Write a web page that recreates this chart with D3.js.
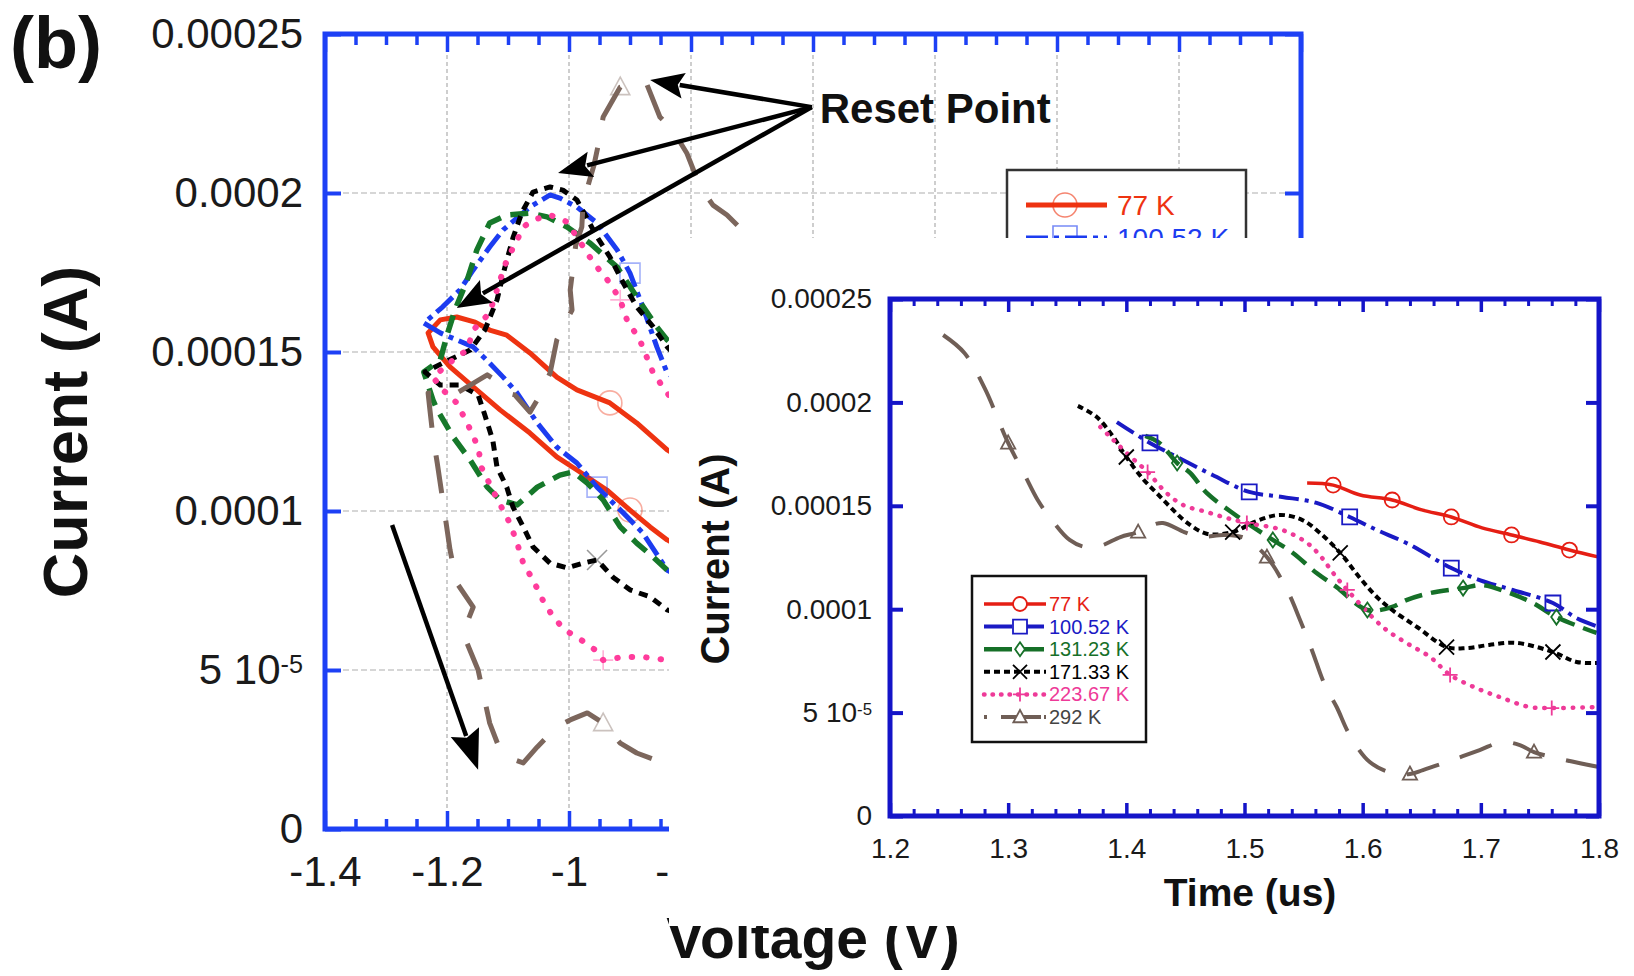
<!DOCTYPE html>
<html>
<head>
<meta charset="utf-8">
<script src="https://cdn.jsdelivr.net/npm/d3@7"></script>
<style>
  body { margin: 0; background: #fff; }
  svg { display: block; }
</style>
</head>
<body>
<svg id="fig" width="1634" height="976"></svg>
<script>
// ---------------- data ----------------
const TEMPS = ["77 K", "100.52 K", "131.23 K", "171.33 K", "223.67 K", "292 K"];

// I–V loops, [voltage (V), current (A)], in sweep order
const iv77 = [[-0.70,1.03e-4],[-0.839,1.192e-4],[-0.889,1.277e-4],[-0.933,1.340e-4],[-0.987,1.381e-4],[-1.020,1.421e-4],[-1.064,1.497e-4],[-1.102,1.553e-4],[-1.130,1.569e-4],[-1.154,1.594e-4],[-1.184,1.610e-4],[-1.211,1.601e-4],[-1.231,1.560e-4],[-1.223,1.516e-4],[-1.195,1.453e-4],[-1.157,1.390e-4],[-1.113,1.318e-4],[-1.064,1.245e-4],[-1.020,1.170e-4],[-0.987,1.129e-4],[-0.938,1.066e-4],[-0.900,1.003e-4],[-0.867,0.950e-4],[-0.839,0.909e-4],[-0.70,0.76e-4]];
const iv100 = [[-0.70,1.25e-4],[-0.839,1.434e-4],[-0.856,1.516e-4],[-0.879,1.642e-4],[-0.900,1.748e-4],[-0.921,1.821e-4],[-0.954,1.906e-4],[-0.987,1.956e-4],[-1.015,1.984e-4],[-1.031,1.994e-4],[-1.064,1.956e-4],[-1.108,1.884e-4],[-1.130,1.830e-4],[-1.157,1.758e-4],[-1.179,1.695e-4],[-1.207,1.642e-4],[-1.238,1.591e-4],[-1.211,1.560e-4],[-1.184,1.538e-4],[-1.157,1.516e-4],[-1.130,1.465e-4],[-1.108,1.421e-4],[-1.085,1.371e-4],[-1.052,1.277e-4],[-1.020,1.201e-4],[-0.987,1.151e-4],[-0.954,1.075e-4],[-0.911,0.994e-4],[-0.879,0.931e-4],[-0.839,0.814e-4],[-0.70,0.68e-4]];
const iv131 = [[-0.70,1.30e-4],[-0.839,1.538e-4],[-0.856,1.579e-4],[-0.889,1.673e-4],[-0.921,1.767e-4],[-0.966,1.843e-4],[-1.003,1.893e-4],[-1.036,1.925e-4],[-1.064,1.937e-4],[-1.102,1.931e-4],[-1.130,1.906e-4],[-1.151,1.821e-4],[-1.167,1.726e-4],[-1.187,1.632e-4],[-1.200,1.553e-4],[-1.211,1.475e-4],[-1.238,1.437e-4],[-1.223,1.349e-4],[-1.216,1.318e-4],[-1.190,1.233e-4],[-1.162,1.160e-4],[-1.134,1.075e-4],[-1.113,1.035e-4],[-1.085,1.019e-4],[-1.052,1.075e-4],[-1.015,1.113e-4],[-0.993,1.123e-4],[-0.970,1.088e-4],[-0.944,1.035e-4],[-0.916,0.950e-4],[-0.889,0.899e-4],[-0.862,0.855e-4],[-0.839,0.814e-4],[-0.70,0.70e-4]];
const iv171 = [[-0.70,1.25e-4],[-0.839,1.516e-4],[-0.862,1.579e-4],[-0.889,1.642e-4],[-0.911,1.717e-4],[-0.933,1.799e-4],[-0.954,1.862e-4],[-0.987,1.978e-4],[-1.010,2.009e-4],[-1.031,2.019e-4],[-1.059,2.003e-4],[-1.077,1.940e-4],[-1.092,1.858e-4],[-1.105,1.767e-4],[-1.118,1.664e-4],[-1.138,1.569e-4],[-1.162,1.506e-4],[-1.203,1.469e-4],[-1.236,1.437e-4],[-1.211,1.396e-4],[-1.179,1.396e-4],[-1.149,1.365e-4],[-1.138,1.302e-4],[-1.125,1.223e-4],[-1.118,1.138e-4],[-1.102,1.075e-4],[-1.092,1.013e-4],[-1.075,0.950e-4],[-1.059,0.887e-4],[-1.031,0.836e-4],[-1.003,0.821e-4],[-0.977,0.836e-4],[-0.954,0.846e-4],[-0.928,0.792e-4],[-0.900,0.752e-4],[-0.867,0.730e-4],[-0.839,0.689e-4],[-0.70,0.60e-4]];
const iv223 = [[-0.70,1.05e-4],[-0.839,1.371e-4],[-0.862,1.434e-4],[-0.884,1.538e-4],[-0.905,1.601e-4],[-0.916,1.664e-4],[-0.933,1.717e-4],[-0.954,1.767e-4],[-0.966,1.799e-4],[-1.003,1.909e-4],[-1.031,1.931e-4],[-1.059,1.915e-4],[-1.075,1.893e-4],[-1.085,1.852e-4],[-1.102,1.789e-4],[-1.113,1.726e-4],[-1.130,1.623e-4],[-1.157,1.569e-4],[-1.167,1.506e-4],[-1.190,1.475e-4],[-1.223,1.421e-4],[-1.207,1.381e-4],[-1.184,1.340e-4],[-1.167,1.277e-4],[-1.149,1.201e-4],[-1.143,1.135e-4],[-1.121,1.050e-4],[-1.097,0.962e-4],[-1.085,0.899e-4],[-1.075,0.836e-4],[-1.059,0.783e-4],[-1.043,0.720e-4],[-1.026,0.667e-4],[-1.007,0.626e-4],[-0.985,0.601e-4],[-0.957,0.563e-4],[-0.944,0.531e-4],[-0.911,0.541e-4],[-0.879,0.541e-4],[-0.838,0.531e-4],[-0.70,0.50e-4]];
const iv292 = [[-0.50,1.45e-4],[-0.621,1.664e-4],[-0.708,1.868e-4],[-0.741,1.931e-4],[-0.764,1.962e-4],[-0.785,2.019e-4],[-0.807,2.126e-4],[-0.830,2.198e-4],[-0.851,2.239e-4],[-0.872,2.340e-4],[-0.889,2.349e-4],[-0.916,2.333e-4],[-0.944,2.239e-4],[-0.952,2.151e-4],[-0.959,2.088e-4],[-0.977,1.969e-4],[-0.979,1.893e-4],[-0.989,1.836e-4],[-0.998,1.695e-4],[-0.995,1.632e-4],[-1.020,1.538e-4],[-1.031,1.434e-4],[-1.052,1.349e-4],[-1.064,1.311e-4],[-1.089,1.365e-4],[-1.102,1.371e-4],[-1.121,1.412e-4],[-1.134,1.428e-4],[-1.162,1.396e-4],[-1.184,1.371e-4],[-1.211,1.371e-4],[-1.231,1.371e-4],[-1.228,1.318e-4],[-1.223,1.233e-4],[-1.216,1.151e-4],[-1.207,1.035e-4],[-1.195,0.877e-4],[-1.184,0.774e-4],[-1.157,0.698e-4],[-1.174,0.616e-4],[-1.149,0.500e-4],[-1.130,0.333e-4],[-1.113,0.248e-4],[-1.102,0.226e-4],[-1.075,0.208e-4],[-1.052,0.258e-4],[-1.020,0.321e-4],[-0.998,0.343e-4],[-0.970,0.365e-4],[-0.944,0.333e-4],[-0.916,0.270e-4],[-0.889,0.239e-4],[-0.846,0.208e-4],[-0.752,0.186e-4]];
// indices of the I–V points that carry a symbol
const ivMarks = [[3, 21], [4, 26], [], [32], [5, 36], [11, 49]];

// current vs time after the reset point, [time (us), current (A)]
const it77 = [[1.553,1.610e-4],[1.575,1.600e-4],[1.598,1.552e-4],[1.625,1.528e-4],[1.650,1.480e-4],[1.675,1.446e-4],[1.701,1.393e-4],[1.726,1.359e-4],[1.750,1.325e-4],[1.775,1.286e-4],[1.800,1.252e-4]];
const it100 = [[1.392,1.905e-4],[1.420,1.804e-4],[1.443,1.736e-4],[1.473,1.649e-4],[1.504,1.567e-4],[1.532,1.543e-4],[1.561,1.514e-4],[1.589,1.446e-4],[1.612,1.383e-4],[1.637,1.320e-4],[1.675,1.199e-4],[1.699,1.141e-4],[1.727,1.093e-4],[1.761,1.030e-4],[1.781,0.957e-4],[1.800,0.914e-4]];
const it131 = [[1.416,1.838e-4],[1.428,1.804e-4],[1.443,1.707e-4],[1.454,1.659e-4],[1.468,1.562e-4],[1.490,1.465e-4],[1.507,1.398e-4],[1.524,1.335e-4],[1.541,1.272e-4],[1.561,1.175e-4],[1.578,1.107e-4],[1.604,0.996e-4],[1.625,1.011e-4],[1.637,1.044e-4],[1.657,1.078e-4],[1.685,1.102e-4],[1.701,1.117e-4],[1.722,1.083e-4],[1.744,1.030e-4],[1.764,0.962e-4],[1.798,0.885e-4]];
const it171 = [[1.359,1.983e-4],[1.375,1.929e-4],[1.389,1.833e-4],[1.400,1.736e-4],[1.414,1.630e-4],[1.426,1.560e-4],[1.437,1.495e-4],[1.451,1.420e-4],[1.468,1.365e-4],[1.490,1.373e-4],[1.510,1.426e-4],[1.530,1.456e-4],[1.549,1.431e-4],[1.564,1.368e-4],[1.581,1.272e-4],[1.597,1.156e-4],[1.612,1.059e-4],[1.625,0.996e-4],[1.646,0.914e-4],[1.671,0.817e-4],[1.688,0.812e-4],[1.707,0.827e-4],[1.730,0.837e-4],[1.761,0.793e-4],[1.781,0.745e-4],[1.799,0.740e-4]];
const it223 = [[1.378,1.881e-4],[1.389,1.818e-4],[1.403,1.741e-4],[1.418,1.663e-4],[1.434,1.562e-4],[1.448,1.504e-4],[1.468,1.470e-4],[1.485,1.441e-4],[1.502,1.417e-4],[1.532,1.383e-4],[1.553,1.320e-4],[1.565,1.252e-4],[1.575,1.175e-4],[1.587,1.093e-4],[1.617,0.914e-4],[1.637,0.837e-4],[1.657,0.769e-4],[1.674,0.682e-4],[1.696,0.619e-4],[1.718,0.571e-4],[1.741,0.527e-4],[1.760,0.522e-4],[1.798,0.527e-4]];
const it292 = [[1.245,2.326e-4],[1.263,2.239e-4],[1.280,2.070e-4],[1.300,1.804e-4],[1.314,1.649e-4],[1.325,1.528e-4],[1.337,1.431e-4],[1.352,1.335e-4],[1.365,1.301e-4],[1.378,1.306e-4],[1.395,1.349e-4],[1.410,1.373e-4],[1.420,1.402e-4],[1.431,1.417e-4],[1.449,1.373e-4],[1.462,1.349e-4],[1.483,1.359e-4],[1.500,1.344e-4],[1.519,1.252e-4],[1.536,1.093e-4],[1.547,0.948e-4],[1.557,0.803e-4],[1.568,0.633e-4],[1.578,0.527e-4],[1.589,0.392e-4],[1.606,0.261e-4],[1.625,0.208e-4],[1.640,0.203e-4],[1.651,0.222e-4],[1.671,0.261e-4],[1.699,0.319e-4],[1.718,0.358e-4],[1.733,0.343e-4],[1.745,0.309e-4],[1.764,0.280e-4],[1.800,0.237e-4]];
const itMarks = [[1,3,5,7,9], [1,4,7,10,13], [2,7,11,15,19], [3,9,14,19,23], [3,8,13,17,21], [3,11,18,27,33]];

// axis ticks and labels
const VOLT_TICKS = [-1.4, -1.2, -1, -0.8, -0.6, -0.4, -0.2, 0, 0.2];
const VOLT_LABELLED = [-1.4, -1.2, -1, -0.8];   // the rest sit under the inset
const CURRENT_TICKS = [0, 5e-5, 1e-4, 1.5e-4, 2e-4, 2.5e-4];
const CURRENT_LABELS = ["0", "5 10-5", "0.0001", "0.00015", "0.0002", "0.00025"];
const TIME_TICKS = [1.2, 1.3, 1.4, 1.5, 1.6, 1.7, 1.8];

// ---------------- styles ----------------
const FONT = "'Liberation Sans', Arial, Helvetica, sans-serif";
const IV_DATA = [iv77, iv100, iv131, iv171, iv223, iv292];
const IT_DATA = [it77, it100, it131, it171, it223, it292];
const SHAPES = ["circle", "square", "diamond", "x", "plus", "triangle"];
const MAIN_COLORS = ["#ee3311", "#1c3cf0", "#16782a", "#000000", "#ff3c9c", "#7c665c"];
const INSET_COLORS = ["#e51e14", "#1a1ac4", "#167028", "#000000", "#ee3a98", "#6f5e56"];
const MAIN_DASH = [null, "22,6,5,6", "18,10", "9,7", "0.5,14", "38,28"];
const INSET_DASH = [null, "20,6,4,6", "18,9", "6,4", "0.5,9", "34,22"];
const MAIN_WIDTH = [5, 5, 5.5, 5, 6, 5];
const INSET_WIDTH = [3.5, 4, 4.5, 4, 4.5, 4];

function markerPath(shape, s) {
  switch (shape) {
    case "circle": return `M${-s},0a${s},${s} 0 1,0 ${2*s},0a${s},${s} 0 1,0 ${-2*s},0Z`;
    case "square": return `M${-s},${-s}h${2*s}v${2*s}h${-2*s}Z`;
    case "diamond": return `M0,${-s}L${0.7*s},0L0,${s}L${-0.7*s},0Z`;
    case "x": return `M${-s},${-s}L${s},${s}M${-s},${s}L${s},${-s}`;
    case "plus": return `M${-s},0H${s}M0,${-s}V${s}`;
    default: return `M0,${-s}L${0.95*s},${0.75*s}L${-0.95*s},${0.75*s}Z`;
  }
}

function styleAxis(g, color, width, size) {
  g.select(".domain").remove();
  g.attr("font-family", FONT).attr("font-size", size);
  g.selectAll(".tick line").attr("stroke", color).attr("stroke-width", width);
  g.selectAll(".tick text").attr("fill", "#1a1a1a");
  // unlabelled ticks keep no text node
  g.selectAll(".tick text").filter(function () { return !this.textContent; }).remove();
}

function currentLabels(g) {
  g.selectAll(".tick text").each(function (d) {
    const t = d3.select(this);
    const lab = CURRENT_LABELS[CURRENT_TICKS.indexOf(d)];
    t.text(null);
    const m = lab.match(/^(.*) 10(-\d+)$/);
    if (m) {
      t.append("tspan").text(m[1] + " 10");
      t.append("tspan").attr("dy", "-0.45em").attr("font-size", "0.6em").text(m[2]);
    } else {
      t.text(lab);
    }
  });
}

const svg = d3.select("#fig");
svg.append("rect").attr("width", 1634).attr("height", 976).attr("fill", "#fff");

// ================= main panel: current vs voltage =================
const xV = d3.scaleLinear().domain([-1.4, 0.2]).range([325, 1301]);
const yA = d3.scaleLinear().domain([0, 2.5e-4]).range([829, 34]);
const main = svg.append("g");
const MAIN_BLUE = "#1d40f5";

// grid
main.append("g").selectAll("line").data(VOLT_TICKS.slice(1, -1)).join("line")
  .attr("x1", d => xV(d)).attr("x2", d => xV(d))
  .attr("y1", yA(2.5e-4)).attr("y2", yA(0))
  .attr("stroke", "#c9c9c9").attr("stroke-width", 1.8).attr("stroke-dasharray", "4,3");
main.append("g").selectAll("line").data(CURRENT_TICKS.slice(1, -1)).join("line")
  .attr("x1", xV(-1.4)).attr("x2", xV(0.2))
  .attr("y1", d => yA(d)).attr("y2", d => yA(d))
  .attr("stroke", "#c9c9c9").attr("stroke-width", 1.6).attr("stroke-dasharray", "6,3");

// curves
svg.append("defs").append("clipPath").attr("id", "mainClip")
  .append("rect").attr("x", xV(-1.4)).attr("y", yA(2.5e-4))
  .attr("width", xV(0.2) - xV(-1.4)).attr("height", yA(0) - yA(2.5e-4));
const curves = main.append("g").attr("clip-path", "url(#mainClip)");
const ivLine = d3.line().x(d => xV(d[0])).y(d => yA(d[1]));
IV_DATA.forEach((data, i) => {
  curves.append("path").attr("d", ivLine(data))
    .attr("fill", "none").attr("stroke", MAIN_COLORS[i]).attr("stroke-width", MAIN_WIDTH[i])
    .attr("stroke-linejoin", "round")
    .attr("stroke-linecap", i === 4 ? "round" : "butt")
    .attr("stroke-dasharray", MAIN_DASH[i]);
  curves.append("g").selectAll("path").data(ivMarks[i].map(k => data[k])).join("path")
    .attr("transform", d => `translate(${xV(d[0])},${yA(d[1])})`)
    .attr("d", markerPath(SHAPES[i], i === 0 ? 12 : 10))
    .attr("fill", "none").attr("stroke", MAIN_COLORS[i]).attr("stroke-width", 1.6)
    .attr("stroke-opacity", 0.4);
});

// axes (ticks point inward)
const minorV = d3.range(0, 33).filter(k => k % 4 !== 0).map(k => -1.4 + k * 0.05);
const axB = main.append("g").attr("transform", `translate(0,${yA(0)})`)
  .call(d3.axisBottom(xV).tickValues(VOLT_TICKS).tickSize(-18).tickPadding(27)
    .tickFormat(d => VOLT_LABELLED.includes(d) ? String(d) : ""));
styleAxis(axB, MAIN_BLUE, 3.5, 42);
const axBm = main.append("g").attr("transform", `translate(0,${yA(0)})`)
  .call(d3.axisBottom(xV).tickValues(minorV).tickSize(-10).tickFormat(""));
styleAxis(axBm, MAIN_BLUE, 3.5, 42);
const axT = main.append("g").attr("transform", `translate(0,${yA(2.5e-4)})`)
  .call(d3.axisTop(xV).tickValues(VOLT_TICKS).tickSize(-18).tickFormat(""));
styleAxis(axT, MAIN_BLUE, 3.5, 42);
const axTm = main.append("g").attr("transform", `translate(0,${yA(2.5e-4)})`)
  .call(d3.axisTop(xV).tickValues(minorV).tickSize(-11).tickFormat(""));
styleAxis(axTm, MAIN_BLUE, 3.5, 42);
const axL = main.append("g").attr("transform", `translate(${xV(-1.4)},0)`)
  .call(d3.axisLeft(yA).tickValues(CURRENT_TICKS).tickSize(-16).tickPadding(22));
styleAxis(axL, MAIN_BLUE, 4, 42);
currentLabels(axL);
const axR = main.append("g").attr("transform", `translate(${xV(0.2)},0)`)
  .call(d3.axisRight(yA).tickValues(CURRENT_TICKS).tickSize(-16).tickFormat(""));
styleAxis(axR, MAIN_BLUE, 4, 42);

main.append("rect").attr("x", xV(-1.4)).attr("y", yA(2.5e-4))
  .attr("width", xV(0.2) - xV(-1.4)).attr("height", yA(0) - yA(2.5e-4))
  .attr("fill", "none").attr("stroke", MAIN_BLUE).attr("stroke-width", 5);

// titles
main.append("text").attr("transform", "translate(87,432) rotate(-90)")
  .attr("text-anchor", "middle").attr("font-family", FONT).attr("font-weight", "bold")
  .attr("font-size", 63).attr("fill", "#111").text("Current (A)");
main.append("text").attr("x", (xV(-1.4) + xV(0.2)) / 2).attr("y", 958)
  .attr("text-anchor", "middle").attr("font-family", FONT).attr("font-weight", "bold")
  .attr("font-size", 57).attr("fill", "#111").text("Voltage (V)");
main.append("text").attr("x", 10).attr("y", 68)
  .attr("font-family", FONT).attr("font-weight", "bold")
  .attr("font-size", 72).attr("fill", "#111").text("(b)");

// legend of the main panel
const legM = main.append("g");
legM.append("rect").attr("x", 1007).attr("y", 170).attr("width", 239).attr("height", 215)
  .attr("fill", "#fff").attr("stroke", "#333").attr("stroke-width", 2.5);
TEMPS.forEach((name, i) => {
  const y = 205 + i * 33;
  legM.append("line").attr("x1", 1026).attr("x2", 1107).attr("y1", y).attr("y2", y)
    .attr("stroke", MAIN_COLORS[i]).attr("stroke-width", MAIN_WIDTH[i])
    .attr("stroke-dasharray", MAIN_DASH[i]);
  legM.append("path").attr("transform", `translate(1065,${y})`)
    .attr("d", markerPath(SHAPES[i], 12)).attr("fill", "none")
    .attr("stroke", MAIN_COLORS[i]).attr("stroke-width", 1.6).attr("stroke-opacity", 0.6);
  legM.append("text").attr("x", 1117).attr("y", y + 10)
    .attr("font-family", FONT).attr("font-size", 28).attr("fill", MAIN_COLORS[i]).text(name);
});

// reset point annotation
const RESET_FROM = [-0.602, 2.27e-4];
const RESET_TARGETS = [[-0.867, 2.355e-4], [-1.018, 2.063e-4], [-1.184, 1.638e-4]];
const TREND = [[-1.290, 0.956e-4], [-1.149, 0.186e-4]];
function arrow(g, p0, p1, len, half) {
  const [x0, y0] = [xV(p0[0]), yA(p0[1])];
  const [x1, y1] = [xV(p1[0]), yA(p1[1])];
  const a = Math.atan2(y1 - y0, x1 - x0);
  const bx = x1 - len * Math.cos(a), by = y1 - len * Math.sin(a);
  g.append("line").attr("x1", x0).attr("y1", y0)
    .attr("x2", bx + 4 * Math.cos(a)).attr("y2", by + 4 * Math.sin(a))
    .attr("stroke", "#000").attr("stroke-width", 4.5);
  g.append("path")
    .attr("d", `M${x1},${y1}L${bx - half * Math.sin(a)},${by + half * Math.cos(a)}` +
      `L${bx + 6 * Math.cos(a)},${by + 6 * Math.sin(a)}` +
      `L${bx + half * Math.sin(a)},${by - half * Math.cos(a)}Z`)
    .attr("fill", "#000");
}
const ann = main.append("g");
RESET_TARGETS.forEach(t => arrow(ann, RESET_FROM, t, 34, 13));
arrow(ann, TREND[0], TREND[1], 40, 15);
ann.append("text").attr("x", xV(-0.589)).attr("y", yA(2.22e-4))
  .attr("font-family", FONT).attr("font-weight", "bold").attr("font-size", 42)
  .attr("fill", "#111").text("Reset Point");

// ================= inset: current vs time =================
const inset = svg.append("g");
inset.append("rect").attr("x", 669).attr("y", 238).attr("width", 965).attr("height", 688)
  .attr("fill", "#fff");
const xT = d3.scaleLinear().domain([1.2, 1.8]).range([890, 1599]);
const yI = d3.scaleLinear().domain([0, 2.5e-4]).range([816, 299]);
const INSET_BLUE = "#1414c8";

const itLine = d3.line().x(d => xT(d[0])).y(d => yI(d[1])).curve(d3.curveCatmullRom.alpha(0.5));
IT_DATA.forEach((data, i) => {
  inset.append("path").attr("d", itLine(data))
    .attr("fill", "none").attr("stroke", INSET_COLORS[i]).attr("stroke-width", INSET_WIDTH[i])
    .attr("stroke-linejoin", "round")
    .attr("stroke-linecap", i === 4 ? "round" : "butt")
    .attr("stroke-dasharray", INSET_DASH[i]);
});
IT_DATA.forEach((data, i) => {
  inset.append("g").selectAll("path").data(itMarks[i].map(k => data[k])).join("path")
    .attr("transform", d => `translate(${xT(d[0])},${yI(d[1])})`)
    .attr("d", markerPath(SHAPES[i], 7.5))
    .attr("fill", "none").attr("stroke", INSET_COLORS[i]).attr("stroke-width", 1.8);
});

const minorT = d3.range(0, 31).filter(k => k % 5 !== 0).map(k => 1.2 + k * 0.02);
const iB = inset.append("g").attr("transform", `translate(0,${yI(0)})`)
  .call(d3.axisBottom(xT).tickValues(TIME_TICKS).tickSize(-13).tickPadding(22).tickFormat(d => String(d)));
styleAxis(iB, INSET_BLUE, 3.5, 28);
const iBm = inset.append("g").attr("transform", `translate(0,${yI(0)})`)
  .call(d3.axisBottom(xT).tickValues(minorT).tickSize(-7).tickFormat(""));
styleAxis(iBm, INSET_BLUE, 3, 28);
const iT = inset.append("g").attr("transform", `translate(0,${yI(2.5e-4)})`)
  .call(d3.axisTop(xT).tickValues(TIME_TICKS).tickSize(-13).tickFormat(""));
styleAxis(iT, INSET_BLUE, 3.5, 28);
const iTm = inset.append("g").attr("transform", `translate(0,${yI(2.5e-4)})`)
  .call(d3.axisTop(xT).tickValues(minorT).tickSize(-7).tickFormat(""));
styleAxis(iTm, INSET_BLUE, 3, 28);
const iL = inset.append("g").attr("transform", `translate(${xT(1.2)},0)`)
  .call(d3.axisLeft(yI).tickValues(CURRENT_TICKS).tickSize(-13).tickPadding(18));
styleAxis(iL, INSET_BLUE, 4, 28);
currentLabels(iL);
const iR = inset.append("g").attr("transform", `translate(${xT(1.8)},0)`)
  .call(d3.axisRight(yI).tickValues(CURRENT_TICKS).tickSize(-13).tickFormat(""));
styleAxis(iR, INSET_BLUE, 4, 28);

inset.append("rect").attr("x", xT(1.2)).attr("y", yI(2.5e-4))
  .attr("width", xT(1.8) - xT(1.2)).attr("height", yI(0) - yI(2.5e-4))
  .attr("fill", "none").attr("stroke", INSET_BLUE).attr("stroke-width", 5);

inset.append("text").attr("transform", "translate(729,559) rotate(-90)")
  .attr("text-anchor", "middle").attr("font-family", FONT).attr("font-weight", "bold")
  .attr("font-size", 40).attr("fill", "#111").text("Current (A)");
inset.append("text").attr("x", 1250).attr("y", 906)
  .attr("text-anchor", "middle").attr("font-family", FONT).attr("font-weight", "bold")
  .attr("font-size", 39).attr("fill", "#111").text("Time (us)");

// inset legend
const legI = inset.append("g");
legI.append("rect").attr("x", 972).attr("y", 576).attr("width", 174).attr("height", 166)
  .attr("fill", "#fff").attr("stroke", "#111").attr("stroke-width", 2.5);
TEMPS.forEach((name, i) => {
  const y = 604 + i * 22.6;
  legI.append("line").attr("x1", 984).attr("x2", 1046).attr("y1", y).attr("y2", y)
    .attr("stroke", INSET_COLORS[i]).attr("stroke-width", INSET_WIDTH[i])
    .attr("stroke-linecap", i === 4 ? "round" : "butt")
    .attr("stroke-dasharray", i === 4 ? "0.5,8" : (i === 5 ? "3,14,40" : (i === 3 ? "6,4" : (i === 0 ? null : "28,4"))));
  legI.append("path").attr("transform", `translate(1020,${y})`)
    .attr("d", markerPath(SHAPES[i], 7)).attr("fill", "#fff")
    .attr("stroke", INSET_COLORS[i]).attr("stroke-width", 1.8);
  legI.append("text").attr("x", 1049).attr("y", y + 7)
    .attr("font-family", FONT).attr("font-size", 20)
    .attr("fill", i === 5 ? "#444" : INSET_COLORS[i]).text(name);
});
</script>
</body>
</html>
